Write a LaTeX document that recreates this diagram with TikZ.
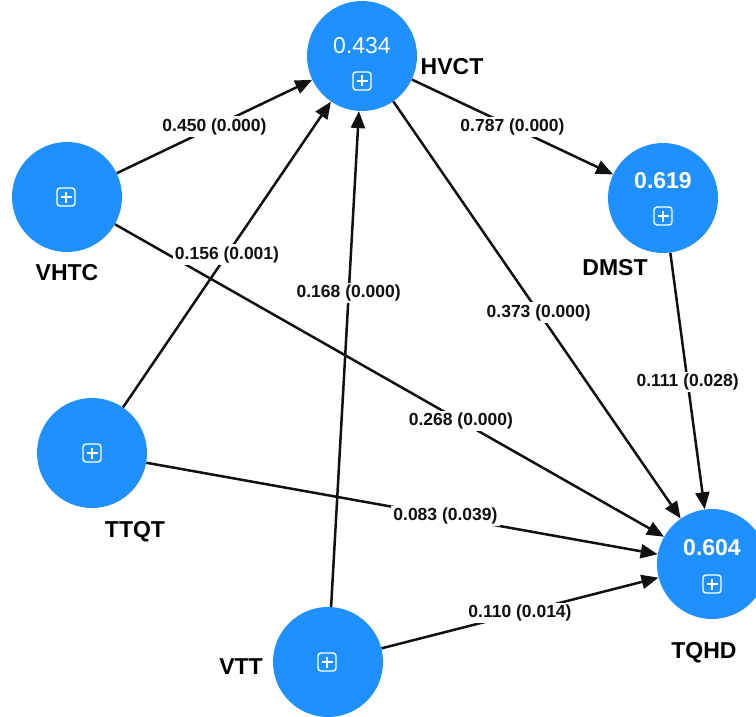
\documentclass[tikz,border=0pt]{standalone}
\usepackage{fontspec}
\setmainfont{Liberation Sans}
\usetikzlibrary{arrows.meta, positioning}
\definecolor{ConstructBlue}{HTML}{1E90FF}
\definecolor{PathInk}{HTML}{111111}

\tikzset{
  construct/.style={circle, fill=ConstructBlue, minimum size=110pt, inner sep=0pt},
  rsq/.style={text=white, font=\fontsize{23}{23}\selectfont},
  plusbox/.style={draw=white, line width=1.4pt, rounded corners=3pt,
    minimum size=18pt, inner sep=0pt,
    path picture={\draw[white, line width=1.4pt]
      ([xshift=-5.5pt]path picture bounding box.center) -- ([xshift=5.5pt]path picture bounding box.center)
      ([yshift=-5.5pt]path picture bounding box.center) -- ([yshift=5.5pt]path picture bounding box.center);}},
  cname/.style={font=\bfseries\fontsize{23}{23}\selectfont},
  relation/.style={draw=PathInk, line width=2.5pt, -{Triangle[length=17pt, width=14pt]}},
  coef/.style={fill=white, inner sep=2pt, text=PathInk, font=\bfseries\fontsize{17.5}{18}\selectfont}
}

\begin{document}
\begin{tikzpicture}[x=1pt, y=-1pt]
\useasboundingbox (0,0) rectangle (756,717);

% constructs
\node[construct] (hvct) at (362,56) {};
\node[construct] (vhtc) at (67,197) {};
\node[construct] (dmst) at (663,198) {};
\node[construct] (ttqt) at (92,453) {};
\node[construct] (vtt) at (328,662) {};
\node[construct] (tqhd) at (712,564) {};

% r-squared values and expand icons
\node[rsq] (hvct-r2) at (362,46) {0.434};
\node[rsq, font=\bfseries\fontsize{23}{23}\selectfont] (dmst-r2) at (663,181) {0.619};
\node[rsq, font=\bfseries\fontsize{23}{23}\selectfont] (tqhd-r2) at (712,548) {0.604};
\node[plusbox] (hvct-box) at (362,81) {};
\node[plusbox] (vhtc-box) at (66,197) {};
\node[plusbox] (dmst-box) at (663,216) {};
\node[plusbox] (ttqt-box) at (92,453) {};
\node[plusbox] (vtt-box) at (327,662) {};
\node[plusbox] (tqhd-box) at (712,584) {};

% construct names
\node[cname] (hvct-name) at (452,67) {HVCT};
\node[cname] (vhtc-name) at (67,273) {VHTC};
\node[cname] (dmst-name) at (615,268) {DMST};
\node[cname] (ttqt-name) at (135,532) {TTQT};
\node[cname] (vtt-name) at (241,667) {VTT};
\node[cname] (tqhd-name) at (704,653) {TQHD};

% paths
\draw[relation] (vhtc) -- node[coef, pos=0.5] {0.450 (0.000)} (hvct);
\draw[relation] (vhtc) -- node[coef, pos=0.63] {0.268 (0.000)} (tqhd);
\draw[relation] (ttqt) -- node[coef, pos=0.5] {0.156 (0.001)} (hvct);
\draw[relation] (vtt) -- node[coef, pos=0.633] {0.168 (0.000)} (hvct);
\draw[relation] (hvct) -- node[coef, pos=0.5] {0.787 (0.000)} (dmst);
\draw[relation] (hvct) -- node[coef, pos=0.506] {0.373 (0.000)} (tqhd);
\draw[relation] (dmst) -- node[coef, pos=0.504] {0.111 (0.028)} (tqhd);
\draw[relation] (ttqt) -- node[coef, pos=0.585] {0.083 (0.039)} (tqhd);
\draw[relation] (vtt) -- node[coef, pos=0.5] {0.110 (0.014)} (tqhd);
\end{tikzpicture}
\end{document}
